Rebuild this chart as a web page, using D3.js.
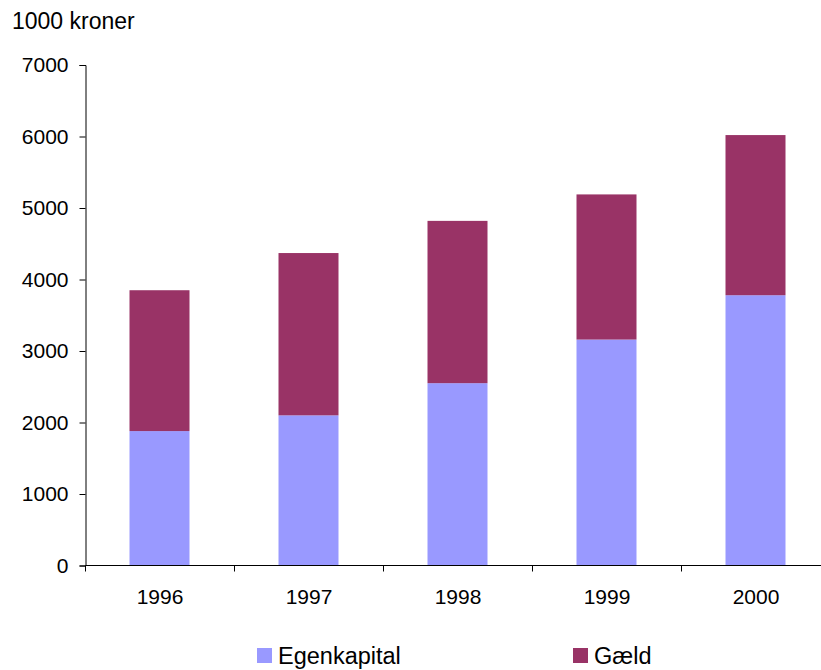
<!DOCTYPE html>
<html>
<head>
<meta charset="utf-8">
<script src="https://cdn.jsdelivr.net/npm/d3@7"></script>
<style>
  body { margin: 0; background: #fff; }
  svg { display: block; font-family: "Liberation Sans", Arial, sans-serif; }
</style>
</head>
<body>
<svg id="chart"></svg>
<script>
const width = 821;
const height = 670;

const years = ['1996', '1997', '1998', '1999', '2000'];
const egenkapital = [1880, 2100, 2550, 3160, 3780];
const gaeld = [1970, 2270, 2270, 2030, 2240];
const yTicks = [0, 1000, 2000, 3000, 4000, 5000, 6000, 7000];
const seriesNames = ['Egenkapital', 'Gæld'];
const colors = ['#9999FF', '#993366'];

const plotLeft = 85.5, plotTop = 65, plotBottom = 565.5, bandW = 149;

const svg = d3.select('#chart')
  .attr('width', width)
  .attr('height', height);

const x = d3.scaleBand().domain(years).range([plotLeft, plotLeft + bandW * years.length]);
const y = d3.scaleLinear().domain([0, 7000]).range([plotBottom, plotTop]);

const rows = years.map((yr, i) => ({year: yr, Egenkapital: egenkapital[i], 'Gæld': gaeld[i]}));
const stacked = d3.stack().keys(seriesNames)(rows);

const barW = 60;
svg.append('g')
  .selectAll('g')
  .data(stacked)
  .enter().append('g')
  .attr('fill', (d, i) => colors[i])
  .selectAll('rect')
  .data(d => d)
  .enter().append('rect')
  .attr('x', d => x(d.data.year) + (bandW - barW) / 2 - 0.5)
  .attr('width', barW)
  .attr('y', d => y(d[1]))
  .attr('height', d => y(d[0]) - y(d[1]));

// y axis
const yAxis = svg.append('g')
  .attr('transform', `translate(${plotLeft},0)`)
  .call(d3.axisLeft(y).tickValues(yTicks).tickSize(6).tickPadding(11).tickFormat(d3.format('d')));
yAxis.selectAll('path, line').attr('stroke', '#000');
yAxis.selectAll('text').attr('font-size', 21).attr('fill', '#000').attr('font-family', 'Liberation Sans, Arial, sans-serif');

// x axis with ticks between categories
const xAxis = svg.append('g')
  .attr('transform', `translate(0,${plotBottom})`);
xAxis.append('line')
  .attr('x1', plotLeft).attr('x2', plotLeft + bandW * years.length)
  .attr('stroke', '#000');
xAxis.selectAll('.tick')
  .data(years.concat(['end']))
  .enter().append('line')
  .attr('x1', (d, i) => plotLeft + i * bandW)
  .attr('x2', (d, i) => plotLeft + i * bandW)
  .attr('y1', 0).attr('y2', 6)
  .attr('stroke', '#000');
xAxis.selectAll('text')
  .data(years)
  .enter().append('text')
  .attr('x', d => x(d) + bandW / 2)
  .attr('y', 38)
  .attr('text-anchor', 'middle')
  .attr('font-size', 21)
  .text(d => d);

// unit label
svg.append('text')
  .attr('x', 12).attr('y', 29)
  .attr('font-size', 23)
  .text('1000 kroner');

// legend
const legendX = [257, 573];
const legend = svg.append('g');
seriesNames.forEach((name, i) => {
  legend.append('rect')
    .attr('x', legendX[i]).attr('y', 648)
    .attr('width', 15).attr('height', 15)
    .attr('fill', colors[i]);
  legend.append('text')
    .attr('x', legendX[i] + 21).attr('y', 664)
    .attr('font-size', 23.5)
    .text(name);
});
</script>
</body>
</html>
